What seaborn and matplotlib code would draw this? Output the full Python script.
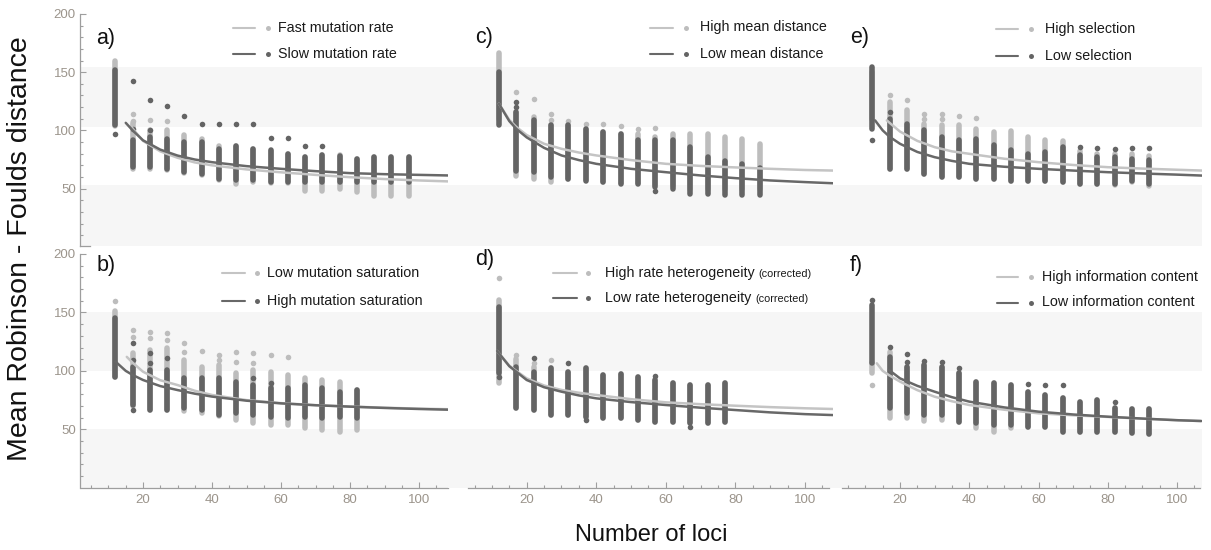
import matplotlib
matplotlib.use("Agg")
import matplotlib.pyplot as plt
from matplotlib.lines import Line2D
from matplotlib.ticker import FixedLocator
import seaborn as sns

sns.set_style("ticks")
plt.rcParams['font.family'] = ['Liberation Sans', 'DejaVu Sans']

# ---------------- data ----------------
# a) mutation rate
A_LOCI = [12, 17, 22, 27, 32, 37, 42, 47, 52, 57, 62, 67, 72, 77, 82, 87, 92, 97]
A_FAST_LO = [104, 67, 67, 66, 63, 62, 57, 54, 55.5, 55, 55, 47.7, 48.3, 49.7, 46.8, 44, 44, 44]
A_FAST_HI = [160, 106, 100, 100, 95.7, 92.8, 87, 87, 84, 82, 80, 77, 78.5, 78.5, 75.6, 77, 77, 77]
A_FAST_OUT_X = [17, 17, 22, 27]
A_FAST_OUT_Y = [114.4, 108.5, 108.6, 107.8]
A_SLOW_LO = [104.3, 68.4, 68.4, 67, 64, 62.7, 58.4, 57, 57, 55.5, 55.5, 55.5, 55.5, 56, 56, 56, 56, 56]
A_SLOW_HI = [152, 92, 94.3, 92.8, 89.9, 89.9, 84, 87, 84, 82.8, 80, 77, 78.5, 77.6, 75.6, 77, 77, 77]
A_SLOW_OUT_X = [12, 17, 17, 22, 22, 27, 32, 37, 42, 47, 52, 57, 62, 67, 72]
A_SLOW_OUT_Y = [97.2, 142.2, 101, 125.9, 100, 121, 112, 105.8, 105.8, 105.8, 105.8, 93.7, 93.7, 87, 87]
A_FAST_FIT_X = [16.5, 17, 20, 25, 30, 35, 40, 50, 60, 70, 80, 90, 100, 108.4]
A_FAST_FIT = [104, 101.5, 91, 82, 76.5, 72.5, 70, 66.5, 64, 61.8, 59.8, 58.2, 57, 56.2]
A_SLOW_FIT_X = [15, 17, 20, 25, 30, 35, 40, 50, 60, 70, 80, 90, 100, 108.4]
A_SLOW_FIT = [106.5, 100, 91.5, 83.5, 78.4, 75, 72.7, 69.3, 67, 65, 63.3, 62.4, 61.8, 61.3]

# b) mutation saturation
B_LOCI = [12, 17, 22, 27, 32, 37, 42, 47, 52, 57, 62, 67, 72, 77, 82]
B_LOW_LO = [95, 70, 66.5, 66.5, 66, 64, 61, 58, 55.1, 53.7, 53.7, 50.8, 49.4, 48, 49.4]
B_LOW_HI = [151, 115, 117.9, 119.3, 109.3, 103.6, 105, 97.9, 100.7, 99.3, 96.5, 93.6, 92.2, 90.8, 83.6]
B_LOW_OUT_X = [12, 17, 17, 22, 22, 27, 27, 32, 32, 37, 42, 42, 47, 47, 52, 52, 57, 62]
B_LOW_OUT_Y = [160.1, 135, 129.3, 133.5, 127.8, 132.1, 126.4, 123.6, 116.4, 117, 113.6, 109.3,
               116.4, 107.9, 115.6, 106.5, 113.6, 112.2]
B_HIGH_LO = [95, 70.8, 66.5, 66.5, 67.9, 66.5, 62.2, 63.7, 62.2, 60.8, 59.4, 60.8, 59.4, 60.8, 59.4]
B_HIGH_HI = [145, 103.6, 100.7, 100.7, 93.6, 93.6, 93.6, 90.8, 87.9, 85, 85, 87.9, 85, 82.2, 83.6]
B_HIGH_OUT_X = [17, 17, 17, 22, 22, 27, 52, 57]
B_HIGH_OUT_Y = [123.6, 109.3, 66.5, 115, 106.5, 110.7, 93.6, 89.3]
B_LOW_FIT_X = [15.3, 17, 20, 25, 30, 35, 40, 50, 60, 70, 80, 90, 100, 108.4]
B_LOW_FIT = [112, 107, 99.3, 92, 87.9, 83, 79.4, 75, 72.4, 70.7, 69.5, 68.5, 67.7, 67.2]
B_HIGH_FIT_X = [12, 15, 17, 20, 25, 30, 35, 40, 50, 60, 70, 80, 90, 100, 108.4]
B_HIGH_FIT = [108, 100, 96.5, 92.2, 87, 83.6, 80.5, 78, 74.5, 72.2, 70.6, 69.4, 68.3, 67.4, 66.8]

# c) mean distance
C_LOCI = [12, 17, 22, 27, 32, 37, 42, 47, 52, 57, 62, 67, 72, 77, 82, 87]
C_HIGH_LO = [110, 61.2, 58.4, 55.5, 58, 57, 56, 55, 55, 53, 52, 50, 50, 50, 50, 50]
C_HIGH_HI = [166.7, 115.8, 111.5, 104.3, 104.3, 101.4, 98.6, 97, 97, 94.3, 97.1, 97.1, 97.1, 94.3, 92.8, 88.5]
C_HIGH_OUT_X = [17, 22, 27, 27, 32, 37, 42, 47, 52, 57]
C_HIGH_OUT_Y = [133, 126.7, 114.4, 108.6, 107.8, 105.2, 105.8, 103.5, 101.4, 102.3]
C_LOW_LO = [104.3, 65.5, 64, 59.8, 58.4, 56.9, 55.5, 54, 54, 51.2, 49.7, 45.4, 45.4, 44.8, 44.8, 44.8]
C_LOW_HI = [150.3, 115.8, 108.6, 104.3, 104.3, 101.4, 98.6, 97.1, 91.4, 91.4, 91.4, 85.6, 77, 74, 71.3, 68]
C_LOW_OUT_X = [17, 17, 57]
C_LOW_OUT_Y = [124.4, 120, 47.7]
C_FIT_X = [12, 15, 17, 20, 25, 30, 35, 40, 50, 60, 70, 80, 90, 100, 108]
C_HIGH_FIT = [123, 109, 103, 96, 88.5, 84.2, 81, 78.5, 74.5, 71.3, 69.5, 68.2, 67, 66, 65.5]
C_LOW_FIT = [123, 108, 101.4, 94, 85, 78.5, 74.5, 71.3, 67, 64.1, 61.3, 59, 57, 55.6, 54.6]

# d) rate heterogeneity
D_LOCI = [12, 17, 22, 27, 32, 37, 42, 47, 52, 57, 62, 67, 72, 77]
D_HIGH_LO = [89.4, 68, 66.5, 62.3, 62.3, 60.8, 59.4, 59.4, 58, 56.6, 56.6, 55.1, 55.1, 56.6]
D_HIGH_HI = [160.7, 110, 103.6, 102.2, 99.3, 102.2, 96.5, 97, 95.1, 92.2, 89.4, 88, 88, 89.4]
D_HIGH_OUT_X = [12, 17, 22, 27]
D_HIGH_OUT_Y = [179.7, 113.6, 106.5, 109.3]
D_LOW_LO = [97.9, 68, 66.5, 62.3, 62.3, 60.8, 59.4, 59.4, 58, 56.6, 56.6, 55.1, 55.1, 56.6]
D_LOW_HI = [155, 103.6, 99.3, 102.2, 99.3, 102.2, 96.5, 97, 95.1, 92.2, 89.4, 88, 88, 89.4]
D_LOW_OUT_X = [12, 22, 32, 37, 57, 67]
D_LOW_OUT_Y = [95.1, 111.3, 106.5, 58, 95.9, 52.3]
D_FIT_X = [11.5, 15, 17, 20, 25, 30, 35, 40, 50, 60, 70, 80, 90, 100, 108]
D_HIGH_FIT = [117, 104.5, 100, 93.6, 87.5, 83.7, 81.3, 79.4, 75.8, 73.1, 71.5, 70.2, 69, 68, 67.4]
D_LOW_FIT = [117, 104, 99.3, 92.2, 86, 82.2, 79, 76.5, 73.3, 70.8, 68.5, 66.5, 64.5, 63, 62.2]

# e) selection
E_LOCI = [12, 17, 22, 27, 32, 37, 42, 47, 52, 57, 62, 67, 72, 77, 82, 87, 92]
E_HIGH_LO = [110, 66.9, 66.9, 62.7, 59.8, 59.8, 58.4, 58.4, 56.9, 56.9, 56.9, 55.5, 54, 54, 53, 56, 52.6]
E_HIGH_HI = [150, 124.4, 117.3, 105.8, 104.3, 104.3, 101.4, 98.6, 99.4, 94.3, 92, 90.5, 82, 80, 80, 80, 77.6]
E_HIGH_OUT_X = [17, 22, 27, 27, 32, 32, 37, 42]
E_HIGH_OUT_Y = [130.2, 125.9, 114.4, 110, 113.8, 110, 112, 110.9]
E_LOW_LO = [101.4, 66.9, 66.9, 62.7, 59.8, 59.8, 58.4, 58.4, 56.9, 56.9, 56.9, 55.5, 54, 54, 54, 56.9, 54]
E_LOW_HI = [154.6, 110, 105.8, 100, 94.3, 91.4, 92.8, 87.1, 82.8, 79.9, 81.3, 85.6, 78.5, 77, 77, 75.6, 74.2]
E_LOW_OUT_X = [12, 17, 72, 77, 82, 87, 92]
E_LOW_OUT_Y = [91.4, 115.8, 85.6, 85, 84.2, 85, 85]
E_HIGH_FIT_X = [16.2, 17, 20, 25, 30, 35, 40, 50, 60, 70, 80, 90, 100, 107.2]
E_HIGH_FIT = [108.6, 106.5, 99, 91, 85.6, 82, 79.9, 75.7, 72.7, 70.3, 68.4, 67.2, 66.2, 65.5]
E_LOW_FIT_X = [12.8, 15, 17, 20, 25, 30, 35, 40, 50, 60, 70, 80, 90, 100, 107.2]
E_LOW_FIT = [108.6, 100, 94.5, 88.5, 81.5, 77, 73.8, 71.3, 68.8, 67, 65.5, 64.1, 63, 62, 61.2]

# f) information content
F_LOCI = [12, 17, 22, 27, 32, 37, 42, 47, 52, 57, 62, 67, 72, 77, 82, 87, 92]
F_HIGH_LO = [97.9, 59.4, 60, 57.1, 58, 56.6, 50.8, 48, 50.8, 52.3, 52.3, 48, 48, 48, 48, 46.6, 45.7]
F_HIGH_HI = [106.5, 116.5, 103.6, 105, 103.6, 97.9, 90.8, 89.9, 87.9, 82.2, 79.4, 76.5, 73.7, 75.1, 68, 67.4, 67.4]
F_HIGH_OUT_X = [12]
F_HIGH_OUT_Y = [87.9]
F_LOW_LO = [106.5, 68, 63.7, 62.3, 62.3, 56.6, 55.1, 53.7, 53.7, 52.3, 52.3, 48, 48, 48, 48, 46.6, 45.7]
F_LOW_HI = [156.4, 112.2, 103.6, 105, 103.6, 97.9, 90.8, 89.9, 87.9, 82.2, 79.4, 76.5, 73.7, 75.1, 68, 67.4, 67.4]
F_LOW_OUT_X = [12, 17, 22, 22, 27, 32, 37, 57, 62, 67, 82]
F_LOW_OUT_Y = [160.7, 120.7, 114.2, 107.3, 108.5, 107.3, 102.2, 88.8, 87.9, 87.9, 73.7]
F_HIGH_FIT_X = [13.3, 15, 17, 20, 25, 30, 35, 40, 50, 60, 70, 80, 90, 100, 107]
F_HIGH_FIT = [106.5, 100, 96, 90.8, 83.5, 77.9, 74, 70.8, 66.8, 63.7, 62, 60.6, 59.1, 57.8, 57.1]
F_LOW_FIT_X = [16.8, 20, 25, 30, 35, 40, 50, 60, 70, 80, 90, 100, 107]
F_LOW_FIT = [100.8, 93.6, 87.2, 82.2, 77.5, 73.7, 68.8, 65.1, 62.7, 60.8, 59.2, 57.8, 57.1]

LEGENDS = {
    'a': ("Fast mutation rate", "Slow mutation rate"),
    'b': ("Low mutation saturation", "High mutation saturation"),
    'c': ("High mean distance", "Low mean distance"),
    'd': ("High rate heterogeneity", "Low rate heterogeneity"),
    'e': ("High selection", "Low selection"),
    'f': ("High information content", "Low information content"),
}
X_TICKS = [20, 40, 60, 80, 100]
Y_TICKS = [50, 100, 150, 200]

# ---------------- styling ----------------
W, H = 1211, 550
LIGHT_PT = '#bdbdbd'
DARK_PT = '#646464'
LIGHT_LN = '#c4c4c4'
DARK_LN = '#686868'
BAND = '#f6f6f6'
AXIS_C = '#9e9e9e'
TICKLAB_C = '#9b948b'
STRIP_LW = 4.0

fig = plt.figure(figsize=(W / 100, H / 100), dpi=100)


def fx(x):
    return x / W


def fy(y):
    return 1 - y / H


# column pixel extents and x limits; row pixel extents, y limits, background bands
COLS = [(80, 448, (1.74, 108.4)), (448, 833, (-2.62, 108.05)), (833, 1202, (0.65, 107.2))]
ROWS = [(14, 246, (0.7, 200), [(102.6, 154.3), (0.7, 53.4)]),
        (254, 488, (-0.2, 200), [(100, 150), (-0.2, 50)])]

panels = {
    'a': (0, 0, A_LOCI, A_FAST_LO, A_FAST_HI, A_FAST_OUT_X, A_FAST_OUT_Y,
          A_SLOW_LO, A_SLOW_HI, A_SLOW_OUT_X, A_SLOW_OUT_Y,
          A_FAST_FIT_X, A_FAST_FIT, A_SLOW_FIT_X, A_SLOW_FIT),
    'b': (1, 0, B_LOCI, B_LOW_LO, B_LOW_HI, B_LOW_OUT_X, B_LOW_OUT_Y,
          B_HIGH_LO, B_HIGH_HI, B_HIGH_OUT_X, B_HIGH_OUT_Y,
          B_LOW_FIT_X, B_LOW_FIT, B_HIGH_FIT_X, B_HIGH_FIT),
    'c': (0, 1, C_LOCI, C_HIGH_LO, C_HIGH_HI, C_HIGH_OUT_X, C_HIGH_OUT_Y,
          C_LOW_LO, C_LOW_HI, C_LOW_OUT_X, C_LOW_OUT_Y,
          C_FIT_X, C_HIGH_FIT, C_FIT_X, C_LOW_FIT),
    'd': (1, 1, D_LOCI, D_HIGH_LO, D_HIGH_HI, D_HIGH_OUT_X, D_HIGH_OUT_Y,
          D_LOW_LO, D_LOW_HI, D_LOW_OUT_X, D_LOW_OUT_Y,
          D_FIT_X, D_HIGH_FIT, D_FIT_X, D_LOW_FIT),
    'e': (0, 2, E_LOCI, E_HIGH_LO, E_HIGH_HI, E_HIGH_OUT_X, E_HIGH_OUT_Y,
          E_LOW_LO, E_LOW_HI, E_LOW_OUT_X, E_LOW_OUT_Y,
          E_HIGH_FIT_X, E_HIGH_FIT, E_LOW_FIT_X, E_LOW_FIT),
    'f': (1, 2, F_LOCI, F_HIGH_LO, F_HIGH_HI, F_HIGH_OUT_X, F_HIGH_OUT_Y,
          F_LOW_LO, F_LOW_HI, F_LOW_OUT_X, F_LOW_OUT_Y,
          F_HIGH_FIT_X, F_HIGH_FIT, F_LOW_FIT_X, F_LOW_FIT),
}
X_SPINE = {'b': (2.0, 108.4), 'd': (3.13, 106.9), 'f': (3.25, 106.6)}

for key, p in panels.items():
    r, c = p[0], p[1]
    x0, x1, xlim = COLS[c]
    y0, y1, ylim, bands = ROWS[r]
    ax = fig.add_axes([fx(x0), fy(y1), (x1 - x0) / W, (y1 - y0) / H])
    ax.set_xlim(*xlim)
    ax.set_ylim(*ylim)
    ax.set_facecolor('none')
    for lo, hi in bands:
        ax.axhspan(lo, hi, color=BAND, lw=0, zorder=0)
    (loci, l_lo, l_hi, l_ox, l_oy, d_lo, d_hi, d_ox, d_oy,
     lfx, lfy, dfx, dfy) = p[2:]
    lc = ax.vlines(loci, l_lo, l_hi, colors=LIGHT_PT, linewidth=STRIP_LW, zorder=2)
    lc.set_capstyle('round')
    sns.scatterplot(x=l_ox, y=l_oy, ax=ax, color=LIGHT_PT, s=16, linewidth=0, zorder=2.1)
    dc = ax.vlines(loci, d_lo, d_hi, colors=DARK_PT, linewidth=STRIP_LW, zorder=3)
    dc.set_capstyle('round')
    sns.scatterplot(x=d_ox, y=d_oy, ax=ax, color=DARK_PT, s=16, linewidth=0, zorder=3.1)
    sns.lineplot(x=lfx, y=lfy, ax=ax, color=LIGHT_LN, linewidth=1.8, zorder=5)
    sns.lineplot(x=dfx, y=dfy, ax=ax, color=DARK_LN, linewidth=1.8, zorder=6)
    ax.set_xlabel('')
    ax.set_ylabel('')
    for s in ax.spines.values():
        s.set_visible(False)
        s.set_color(AXIS_C)
        s.set_linewidth(0.9)
    ax.tick_params(which='both', direction='in', color=AXIS_C, labelcolor=TICKLAB_C,
                   labelsize=9.5, width=0.8)
    ax.tick_params(which='major', length=4)
    ax.tick_params(which='minor', length=2.2)
    ax.tick_params(axis='y', pad=3)
    ax.tick_params(axis='x', pad=4)
    if key in ('a', 'b'):
        ax.spines['left'].set_visible(True)
        ax.yaxis.set_major_locator(FixedLocator(Y_TICKS))
        ax.yaxis.set_minor_locator(FixedLocator([v for v in range(10, 200, 10) if v % 50]))
    else:
        ax.tick_params(axis='y', which='both', left=False, labelleft=False)
    if key in X_SPINE:
        ax.spines['bottom'].set_visible(True)
        ax.spines['bottom'].set_bounds(*X_SPINE[key])
        ax.xaxis.set_major_locator(FixedLocator(X_TICKS))
        ax.xaxis.set_minor_locator(FixedLocator([v for v in range(5, 110, 5) if v % 20]))
    else:
        ax.tick_params(axis='x', which='both', bottom=False, labelbottom=False)
    if key == 'a':
        ax.spines['bottom'].set_visible(True)
        ax.spines['bottom'].set_bounds(xlim[0], 4.6)

# panel letters
LETTER_POS = {'a': (96, 44), 'b': (97, 271), 'c': (475, 43), 'd': (475, 265),
              'e': (850, 43), 'f': (850, 271)}
for k, (x, y) in LETTER_POS.items():
    fig.text(fx(x), fy(y), k + ')', fontsize=15.5, ha='left', va='baseline', color='#111111')

# legends: line start, line end, dot x, text x, row1 y, row2 y (pixels)
LEG_POS = {'a': (233, 255, 268, 278, 28, 54), 'b': (222, 245, 257, 267, 273, 300.5),
           'c': (650, 673, 686, 700, 27.5, 54), 'd': (553, 577, 588, 605, 273, 298),
           'e': (996, 1018, 1031, 1045, 29, 56), 'f': (997, 1018, 1031, 1042, 276.5, 302.5)}
fig.canvas.draw()
renderer = fig.canvas.get_renderer()
for k, (l0, l1, xd, xt, r1, r2) in LEG_POS.items():
    for yy, lc_, pc_, label in ((r1, LIGHT_LN, LIGHT_PT, LEGENDS[k][0]),
                                (r2, DARK_LN, DARK_PT, LEGENDS[k][1])):
        fig.add_artist(Line2D([fx(l0), fx(l1)], [fy(yy), fy(yy)], color=lc_, lw=1.5))
        fig.add_artist(Line2D([fx(xd)], [fy(yy)], marker='o', ms=3.6, color=pc_, ls='none',
                              markeredgewidth=0))
        t = fig.text(fx(xt), fy(yy + 4), label, fontsize=10.3, ha='left', va='baseline',
                     color='#1a1a1a')
        if k == 'd':
            bb = t.get_window_extent(renderer=renderer)
            fig.text((bb.x1 + 4) / W, fy(yy + 4), '(corrected)', fontsize=7.8, ha='left',
                     va='baseline', color='#1a1a1a')

fig.text(fx(20), fy(249), 'Mean Robinson - Foulds distance', rotation=90, fontsize=20.5,
         ha='center', va='center', color='#111111')
fig.text(fx(651), fy(541), 'Number of loci', fontsize=17, ha='center', va='baseline',
         color='#111111')

fig.savefig('out.png', dpi=100)
